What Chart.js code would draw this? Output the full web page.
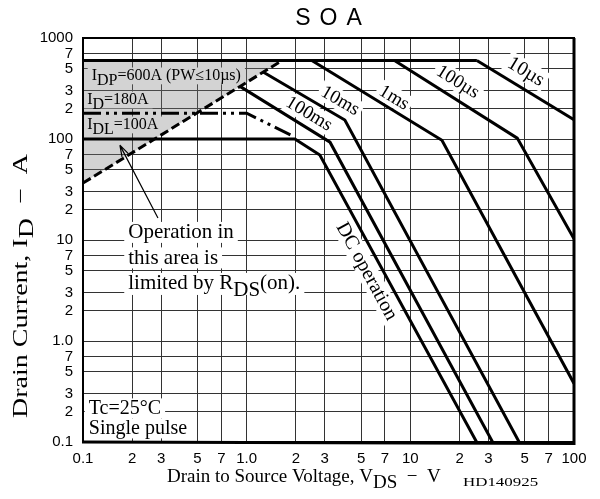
<!DOCTYPE html>
<html><head><meta charset="utf-8">
<script src="https://cdn.jsdelivr.net/npm/chart.js@4.4.0/dist/chart.umd.min.js"></script>
<style>html,body{margin:0;padding:0;background:#fff;}</style>
</head><body>
<canvas id="c" width="600" height="499"></canvas>
<script>
// ---- tick values / labels ----
const xTickValues = [0.1,0.2,0.3,0.5,0.7,1,2,3,5,7,10,20,30,50,70,100];
const xTickLabels = ['0.1','2','3','5','7','1.0','2','3','5','7','10','2','3','5','7','100'];
const yTickValues = [0.1,0.2,0.3,0.5,0.7,1,2,3,5,7,10,20,30,50,70,100,200,300,500,700,1000];
const yTickLabels = ['0.1','2','3','5','7','1.0','2','3','5','7','10','2','3','5','7','100','2','3','5','7','1000'];

// ---- SOA curves: V_DS (V) and I_D (A) ----
const vds10us  = [25.5, 100];
const id10us   = [600, 155];
const vds100us = [8.0, 45, 100];
const id100us  = [600, 102, 10.3];
const vds1ms   = [2.5, 15.6, 100];
const id1ms    = [600, 97, 0.38];
const vds10ms  = [1.26, 3.98, 46.2];
const id10ms   = [460, 154, 0.1];
const vds100ms = [0.91, 3.23, 31.8];
const id100ms  = [332, 93, 0.1];
const vdsDC    = [0.1, 1.97, 2.8, 25.4];
const idDC     = [100, 100, 69.5, 0.1];
const vdsIDP   = [0.1, 25.5];
const idIDP    = [600, 600];
const vdsID    = [0.1, 1.0, 1.85];
const idID     = [180, 180, 110];
const vdsRds   = [0.1, 1.65];
const idRds    = [36.6, 600];
const vdsArea  = [0.1, 1.65, 0.1];
const idArea   = [600, 600, 36.6];

// ---- texts ----
const curveLabelTexts = ['10µs','100µs','1ms','10ms','100ms','DC operation'];

const SERIF = '"Liberation Serif","Times New Roman",serif';
const SANS  = '"Liberation Sans",Arial,sans-serif';

// annotation layout (anchors in data space)
const curveLabelLayout = [
  {v:50.8, i:461, ang:31, size:20},
  {v:19.5, i:366, ang:32, size:19},
  {v:7.94, i:255, ang:31, size:19},
  {v:3.72, i:238, ang:30, size:19},
  {v:2.40, i:177, ang:31, size:19},
  {v:5.40, i:4.88, ang:61.5, size:20}
];
const notes = [
  {v:0.113, i:384, size:16, parts:[{t:'I'},{t:'DP',sub:1},{t:'=600A (PW≤10µs)'}]},
  {v:0.106, i:222, size:16, parts:[{t:'I'},{t:'D',sub:1},{t:'=180A'}]},
  {v:0.106, i:125.6, size:16, parts:[{t:'I'},{t:'DL',sub:1},{t:'=100A'}]},
  {v:0.189, i:10.4, size:21, dy:0, parts:[{t:'Operation in'}]},
  {v:0.189, i:10.4, size:21, dy:25.5, parts:[{t:'this area is'}]},
  {v:0.189, i:10.4, size:21, dy:51, parts:[{t:'limited by R'},{t:'DS',sub:1},{t:'(on).'}]},
  {v:0.1085, i:0.1, size:20, dy:-28, parts:[{t:'Tc=25°C'}]},
  {v:0.1085, i:0.1, size:20, dy:-8, parts:[{t:'Single pulse'}]}
];
const arrowTail = {v:0.287, i:16.5};
const arrowTip  = {v:0.168, i:87};

function richWidth(ctx, parts, size){
  ctx.font = size+'px '+SERIF;
  let w=0; for(const p of parts) w+=ctx.measureText(p.t).width; return w;
}
function drawRich(ctx, parts, x, y, size){
  ctx.font = size+'px '+SERIF;
  ctx.textAlign='left'; ctx.textBaseline='alphabetic';
  let cx=x;
  for(const p of parts){ ctx.fillText(p.t, cx, y + (p.sub? size*0.32:0)); cx+=ctx.measureText(p.t).width; }
}

const decor = {
  id:'decor',
  beforeDatasetsDraw(chart){
    const {ctx, scales:{x,y}} = chart;
    ctx.save(); ctx.fillStyle='#fff';
    for(const n of notes){
      const px=x.getPixelForValue(n.v), py=y.getPixelForValue(n.i)+(n.dy||0);
      const w=richWidth(ctx,n.parts,n.size);
      const hasSub=n.parts.some(p=>p.sub);
      ctx.fillRect(px-4, py-n.size*0.78, w+8, n.size*(hasSub?1.05:1.0));
    }
    curveLabelTexts.forEach((t,k)=>{
      const L=curveLabelLayout[k];
      const px=x.getPixelForValue(L.v), py=y.getPixelForValue(L.i);
      ctx.save(); ctx.translate(px,py); ctx.rotate(L.ang*Math.PI/180);
      ctx.font=L.size+'px '+SERIF;
      const w=ctx.measureText(t).width;
      ctx.fillRect(-w/2-3, -L.size*0.55, w+6, L.size*1.05);
      ctx.restore();
    });
    ctx.restore();
  },
  afterDatasetsDraw(chart){
    const {ctx, chartArea:a, scales:{x,y}} = chart;
    ctx.save();
    // frame
    ctx.strokeStyle='#000';
    ctx.lineWidth=2; ctx.strokeRect(a.left, a.top, a.right-a.left, a.bottom-a.top);
    ctx.lineWidth=3;
    ctx.beginPath(); ctx.moveTo(a.right, a.top); ctx.lineTo(a.right, a.bottom+1.5); ctx.lineTo(a.left-1, a.bottom); ctx.stroke();
    // notes
    ctx.fillStyle='#000';
    for(const n of notes){
      const px=x.getPixelForValue(n.v), py=y.getPixelForValue(n.i)+(n.dy||0);
      drawRich(ctx,n.parts,px,py,n.size);
    }
    // curve labels
    curveLabelTexts.forEach((t,k)=>{
      const L=curveLabelLayout[k];
      const px=x.getPixelForValue(L.v), py=y.getPixelForValue(L.i);
      ctx.save(); ctx.translate(px,py); ctx.rotate(L.ang*Math.PI/180);
      ctx.font=L.size+'px '+SERIF; ctx.textAlign='center'; ctx.textBaseline='middle';
      ctx.fillText(t,0,0);
      ctx.restore();
    });
    // arrow
    const tx=x.getPixelForValue(arrowTail.v), ty=y.getPixelForValue(arrowTail.i);
    const hx=x.getPixelForValue(arrowTip.v), hy=y.getPixelForValue(arrowTip.i);
    ctx.lineWidth=1.2; ctx.beginPath(); ctx.moveTo(tx,ty); ctx.lineTo(hx,hy);
    const ang=Math.atan2(ty-hy, tx-hx);
    for(const s of [-0.3,0.3]){ ctx.moveTo(hx,hy); ctx.lineTo(hx+12*Math.cos(ang+s), hy+12*Math.sin(ang+s)); }
    ctx.stroke();
    ctx.restore();
  },
  afterDraw(chart){
    const {ctx, chartArea:a} = chart;
    ctx.save(); ctx.fillStyle='#000';
    // title
    ctx.font='23px '+SANS; ctx.textAlign='center'; ctx.textBaseline='alphabetic';
    try{ ctx.letterSpacing='9px'; }catch(e){}
    ctx.fillText('SOA', (a.left+a.right)/2+4.5, 25);
    try{ ctx.letterSpacing='0px'; }catch(e){}
    // x title
    drawRich(ctx,[{t:'Drain to Source Voltage, V'},{t:'DS',sub:1},{t:'  −  V'}],167,482,19);
    ctx.save(); ctx.translate(463,486); ctx.scale(1.3,1);
    ctx.font='13px '+SERIF; ctx.textAlign='left'; ctx.fillText('HD140925',0,0);
    ctx.restore();
    // y title
    ctx.save();
    ctx.translate(27, 286); ctx.rotate(-Math.PI/2); ctx.scale(1.4,1);
    const yt=[{t:'Drain Current, I'},{t:'D',sub:1},{t:'  −  A'}];
    const w=richWidth(ctx,yt,20);
    drawRich(ctx,yt,-w/2,0,20);
    ctx.restore();
    ctx.restore();
  }
};

const pts=(xs,ys)=>xs.map((v,i)=>({x:v,y:ys[i]}));
const line=(xs,ys,extra)=>Object.assign({data:pts(xs,ys),borderColor:'#000',borderWidth:3,pointRadius:0,showLine:true,fill:false,tension:0,borderCapStyle:'butt',borderJoinStyle:'miter'},extra||{});

new Chart(document.getElementById('c'),{
  type:'scatter',
  data:{datasets:[
    line(vds10us,id10us), line(vds100us,id100us), line(vds1ms,id1ms),
    line(vds10ms,id10ms), line(vds100ms,id100ms), line(vdsDC,idDC),
    line(vdsIDP,idIDP),
    line(vdsID,idID,{borderDash:[18,5,3,5,3,5]}),
    line(vdsRds,idRds,{borderDash:[9,4]}),
    line(vdsArea,idArea,{borderWidth:0,borderColor:'rgba(0,0,0,0)',backgroundColor:'rgba(120,120,120,0.33)',fill:'shape'})
  ]},
  options:{
    responsive:false, animation:false, events:[],
    layout:{padding:{top:38,right:26,left:0,bottom:0}},
    plugins:{legend:{display:false},tooltip:{enabled:false},title:{display:false}},
    scales:{
      x:{type:'logarithmic',min:0.1,max:100,
        afterFit(s){s.height=57;},
        afterBuildTicks(s){s.ticks=xTickValues.map(v=>({value:v}));},
        ticks:{callback:(v,i)=>xTickLabels[i],autoSkip:false,maxRotation:0,minRotation:0,padding:8,color:'#000',font:{family:SANS,size:15}},
        grid:{color:'#333',lineWidth:1,drawTicks:false},border:{display:false}},
      y:{type:'logarithmic',min:0.1,max:1000,
        afterFit(s){s.width=83;},
        afterBuildTicks(s){s.ticks=yTickValues.map(v=>({value:v}));},
        ticks:{callback:(v,i)=>yTickLabels[i],autoSkip:false,padding:10,color:'#000',font:{family:SANS,size:15}},
        grid:{color:'#333',lineWidth:1,drawTicks:false},border:{display:false}}
    }
  },
  plugins:[decor]
});
</script>
</body></html>
